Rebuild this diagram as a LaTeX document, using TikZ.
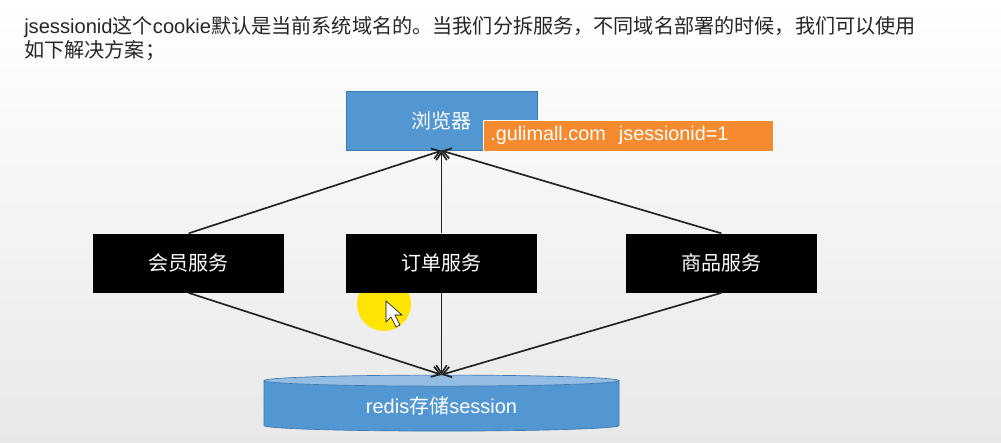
\documentclass[tikz,border=0pt]{standalone}
\usepackage{fontspec}
\setmainfont{Liberation Sans}
\newfontfamily\cjk{Noto Sans CJK SC}
\usetikzlibrary{positioning,shapes.geometric,arrows.meta}
\definecolor{boxblue}{HTML}{5296D2}
\definecolor{boxtop}{HTML}{93BDE3}
\definecolor{boxedge}{HTML}{3F78AE}
\definecolor{tagorange}{HTML}{F58A2E}
\definecolor{lineblack}{HTML}{222222}
\tikzset{
  br/.style={rectangle, minimum width=143.25pt, minimum height=44pt, inner sep=0pt, text centered, draw=boxedge, line width=0.5pt, fill=boxblue, text=white, font=\fontsize{15}{18}\selectfont},
  sv/.style={rectangle, minimum width=143.25pt, minimum height=44.25pt, inner sep=0pt, text centered, fill=black, text=white, font=\fontsize{15}{18}\selectfont},
  tag/.style={rectangle, minimum width=217.5pt, minimum height=23.25pt, inner sep=0pt, draw=white, line width=0.4pt, fill=tagorange, text=white, font=\fontsize{14.85}{17}\selectfont},
  db/.style={cylinder, shape border rotate=90, aspect=0.073, minimum width=266.25pt, minimum height=42pt, inner sep=0pt, draw=boxedge, line width=0.5pt, cylinder uses custom fill, cylinder body fill=boxblue, cylinder end fill=boxtop, text=white, font=\fontsize{15}{18}\selectfont},
  arr/.style={-{Straight Barb[length=6pt,width=8pt]}, line width=1.25pt, draw=lineblack},
  node distance=62pt
}
\begin{document}
\begin{tikzpicture}[x=0.75pt,y=-0.75pt]
	\useasboundingbox (0,0) rectangle (1001,443);
	\shade[top color=white, bottom color=black!9, shading angle=0] (0,0) rectangle (1001,443);
	% pointer highlight
	\fill[yellow!88!orange] (384,304) circle (27);
	\draw[fill=white, line width=0.4pt] (386,301) -- (386,322) -- (391,317) -- (396,327) -- (400,325) -- (395,315) -- (402,315) -- cycle;
	%
	\node[anchor=base west, align=left, inner sep=0pt, text=black!85, font=\fontsize{15.1}{18}\selectfont] (title) at (24,57) {jsessionid{\cjk 这个}cookie{\cjk 默认是当前系统域名的。当我们分拆服务，不同域名部署的时候，我们可以使用}\\{\cjk 如下解决方案；}};
	\node[br] (browser) at (441.5,121) {\cjk 浏览器};
	\node[sv, below=of browser] (order) {\cjk 订单服务};
	\node[sv, left=46pt of order] (member) {\cjk 会员服务};
	\node[sv, right=66.25pt of order] (goods) {\cjk 商品服务};
	\node[db] (redis) at (441.5,406) {redis{\cjk 存储}session};
	\node[tag, anchor=north west, text width=207pt, align=left] (cookie) at (483,119.5) {.gulimall.com\ \ jsessionid=1};
	%
	\draw[arr] (member.north) -- (browser.south);
	\draw[arr] (order.north) -- (browser.south);
	\draw[arr] (goods.north) -- (browser.south);
	\draw[arr] (member.south) -- (redis.north);
	\draw[arr] (order.south) -- (redis.north);
	\draw[arr] (goods.south) -- (redis.north);
\end{tikzpicture}
\end{document}
